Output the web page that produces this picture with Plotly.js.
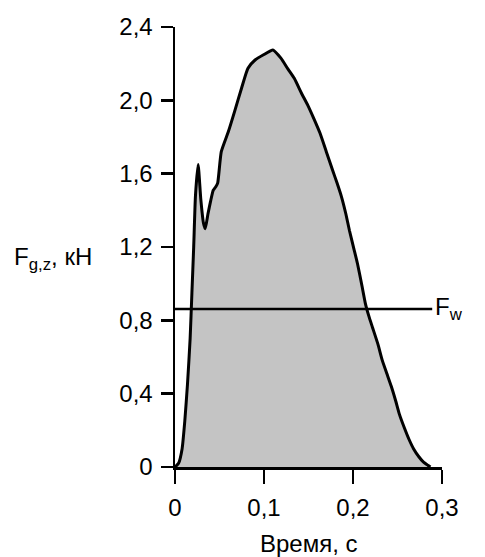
<!DOCTYPE html>
<html>
<head>
<meta charset="utf-8">
<script src="https://cdn.plot.ly/plotly-3.0.1.min.js"></script>
<style>html,body{margin:0;padding:0;background:#fff;}#chart{width:485px;height:557px;}</style>
</head>
<body>
<div id="chart"></div>
<script>
// Time, s
const time = [0, 0.004, 0.008, 0.011, 0.014, 0.017, 0.019, 0.021, 0.023, 0.026, 0.029, 0.032, 0.034, 0.037, 0.040, 0.043, 0.046, 0.048, 0.052, 0.060, 0.067, 0.075, 0.082, 0.090, 0.100, 0.110, 0.119, 0.127, 0.134, 0.142, 0.149, 0.156, 0.163, 0.170, 0.177, 0.182, 0.187, 0.192, 0.196, 0.201, 0.205, 0.210, 0.214, 0.218, 0.222, 0.228, 0.233, 0.238, 0.243, 0.248, 0.252, 0.258, 0.263, 0.268, 0.274, 0.279, 0.284, 0.287];
// Vertical ground reaction force F_g,z, kN
const force = [0, 0.02, 0.10, 0.25, 0.45, 0.70, 0.95, 1.20, 1.48, 1.65, 1.46, 1.33, 1.30, 1.38, 1.45, 1.51, 1.53, 1.55, 1.72, 1.83, 1.94, 2.07, 2.175, 2.22, 2.25, 2.275, 2.23, 2.17, 2.12, 2.04, 1.975, 1.90, 1.82, 1.72, 1.62, 1.55, 1.475, 1.38, 1.29, 1.19, 1.11, 0.99, 0.89, 0.82, 0.76, 0.67, 0.58, 0.51, 0.44, 0.36, 0.29, 0.21, 0.15, 0.10, 0.056, 0.028, 0.01, 0];
// Body weight line F_w
const weightTime = [0, 0.289];
const weightForce = [0.862, 0.862];

const xTickVals = [0, 0.1, 0.2, 0.3];
const xTickText = ['0', '0,1', '0,2', '0,3'];
const yTickVals = [0, 0.4, 0.8, 1.2, 1.6, 2.0, 2.4];
const yTickText = ['0', '0,4', '0,8', '1,2', '1,6', '2,0', '2,4'];

const font = {family: 'Liberation Sans, Arial, sans-serif', size: 24, color: '#000'};

const traces = [
  {
    x: time, y: force, type: 'scatter', mode: 'lines',
    line: {color: '#000', width: 3, shape: 'spline', smoothing: 0.5},
    fill: 'tozeroy', fillcolor: '#c4c4c4',
    hoverinfo: 'skip', showlegend: false
  },
  {
    x: weightTime, y: weightForce, type: 'scatter', mode: 'lines',
    line: {color: '#000', width: 2.5},
    cliponaxis: false, hoverinfo: 'skip', showlegend: false
  }
];

const layout = {
  width: 485, height: 557,
  margin: {l: 175, r: 43, t: 27, b: 90},
  paper_bgcolor: '#fff', plot_bgcolor: '#fff',
  font: font,
  showlegend: false,
  xaxis: {
    range: [0, 0.3], showgrid: false, zeroline: false,
    showline: true, linecolor: '#000', linewidth: 2.5,
    ticks: 'outside', ticklen: 14, tickwidth: 2.5, tickcolor: '#000',
    tickvals: xTickVals, ticktext: xTickText, tickfont: font,
    ticklabelstandoff: 4
  },
  yaxis: {
    range: [0, 2.4], showgrid: false, zeroline: false,
    showline: true, linecolor: '#000', linewidth: 2.5,
    ticks: 'outside', ticklen: 12, tickwidth: 2.5, tickcolor: '#000',
    tickvals: yTickVals, ticktext: yTickText, tickfont: font,
    ticklabelstandoff: 3
  },
  annotations: [
    {
      text: 'F<sub>g,z</sub>, кН', xref: 'paper', yref: 'y',
      x: -0.61, y: 1.14, xanchor: 'left', yanchor: 'middle',
      showarrow: false, font: font
    },
    {
      text: 'Время, с', xref: 'paper', yref: 'paper',
      x: 0.5, y: -0.173, xanchor: 'center', yanchor: 'middle',
      showarrow: false, font: font
    },
    {
      text: 'F<sub>w</sub>', xref: 'x', yref: 'y',
      x: 0.29, y: 0.862, xanchor: 'left', yanchor: 'middle',
      showarrow: false, font: font
    }
  ]
};

Plotly.newPlot('chart', traces, layout, {staticPlot: true, displayModeBar: false});
</script>
</body>
</html>
